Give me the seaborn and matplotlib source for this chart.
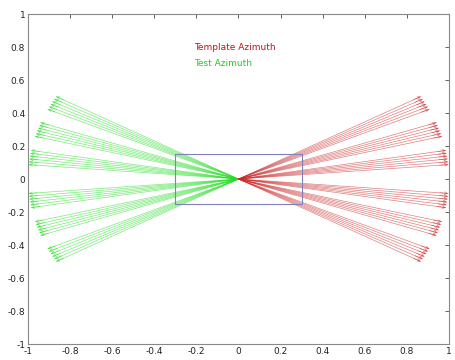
import numpy as np
import pandas as pd
import matplotlib
matplotlib.use("Agg")
import matplotlib.pyplot as plt
import seaborn as sns

# Fan groups: start angle (deg) of each group of azimuth rays
test_group_starts = [150, 160, 170, 185, 195, 205]      # green, left side
template_group_starts = [25, 15, 5, 350, 340, 330]       # red, right side
rays_per_group = [0, 1, 2, 3, 4, 5]                      # degree offsets in each group
ray_length = 1.0
box_x = [-0.3, 0.3, 0.3, -0.3, -0.3]
box_y = [0.15, 0.15, -0.15, -0.15, 0.15]
xticks = [-1, -0.8, -0.6, -0.4, -0.2, 0, 0.2, 0.4, 0.6, 0.8, 1]
yticks = [-1, -0.8, -0.6, -0.4, -0.2, 0, 0.2, 0.4, 0.6, 0.8, 1]

rows = []
uid = 0
for series, starts in (("Test", test_group_starts), ("Template", template_group_starts)):
    for s in starts:
        for o in rays_per_group:
            a = np.deg2rad(s + o)
            rows.append(dict(series=series, ray=uid, x=0.0, y=0.0, order=0))
            rows.append(dict(series=series, ray=uid, x=ray_length * np.cos(a),
                             y=ray_length * np.sin(a), order=1))
            uid += 1
df = pd.DataFrame(rows)

sns.set_style("white")
fig = plt.figure(figsize=(4.56, 3.6), dpi=100)
ax = fig.add_axes([0.0614, 0.0444, 0.9232, 0.9166])

palette = {"Test": "#22dd22", "Template": "#cc2a2a"}
sns.lineplot(data=df, x="x", y="y", hue="series", units="ray", estimator=None,
             sort=False, palette=palette, linewidth=0.5, alpha=0.6,
             legend=False, ax=ax)

# small arrowheads at ray ends
for series, g in df[df.order == 1].groupby("series"):
    for _, r in g.iterrows():
        ax.annotate("", xy=(r.x, r.y), xytext=(r.x * 0.96, r.y * 0.96),
                    arrowprops=dict(arrowstyle="->", color=palette[series],
                                    lw=0.5, alpha=0.6,
                                    mutation_scale=5, shrinkA=0, shrinkB=0))

sns.lineplot(x=box_x, y=box_y, sort=False, estimator=None, color="#8080bb",
             linewidth=0.8, ax=ax)

ax.text(-0.21, 0.8, "Template Azimuth", color="#cc1111", fontsize=6.5, va="center")
ax.text(-0.21, 0.70, "Test Azimuth", color="#22cc22", fontsize=6.5, va="center")

ax.set_xlim(-1, 1)
ax.set_ylim(-1, 1)
ax.set_xticks(xticks)
ax.set_yticks(yticks)
ax.set_xticklabels([f"{t:g}" for t in xticks])
ax.set_yticklabels([f"{t:g}" for t in yticks])
ax.set_xlabel("")
ax.set_ylabel("")
ax.tick_params(direction="in", length=3, width=0.6, labelsize=6.5,
               colors="#444444", top=True, right=True, labelcolor="#222222",
               pad=2)
for sp in ax.spines.values():
    sp.set_color("#888888")
    sp.set_linewidth(0.8)

fig.savefig("out.png", dpi=100)
